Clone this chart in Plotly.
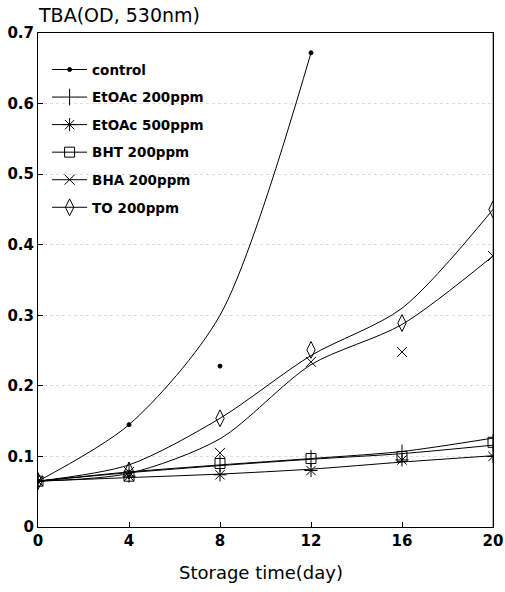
import plotly.graph_objects as go

days = [0, 4, 8, 12, 16, 20]
x_ticks = [0, 4, 8, 12, 16, 20]
y_ticks = [0, 0.1, 0.2, 0.3, 0.4, 0.5, 0.6, 0.7]
y_tick_labels = ["0", "0.1", "0.2", "0.3", "0.4", "0.5", "0.6", "0.7"]

series_names = ["control", "EtOAc 200ppm", "EtOAc 500ppm", "BHT 200ppm", "BHA 200ppm", "TO 200ppm"]

# measured points
control_days = [0, 4, 8, 12]
control_pts = [0.065, 0.145, 0.228, 0.672]
etoac200_pts = [0.065, 0.080, 0.090, 0.097, 0.105, 0.120]
etoac500_pts = [0.065, 0.072, 0.074, 0.080, 0.095, 0.100]
bht_pts = [0.065, 0.072, 0.090, 0.097, 0.100, 0.120]
bha_pts = [0.065, 0.078, 0.105, 0.234, 0.248, 0.384]
to_pts = [0.065, 0.080, 0.154, 0.251, 0.289, 0.450]

# fitted curves drawn through the data
control_fit = [0.065, 0.145, 0.300, 0.672]
etoac200_fit = [0.065, 0.078, 0.088, 0.097, 0.107, 0.126]
etoac500_fit = [0.065, 0.070, 0.075, 0.082, 0.092, 0.101]
bht_fit = [0.065, 0.077, 0.087, 0.096, 0.104, 0.116]
bha_fit = [0.065, 0.076, 0.125, 0.230, 0.287, 0.384]
to_fit = [0.065, 0.088, 0.154, 0.243, 0.310, 0.450]

symbols = ["circle", "line-ns-open", "asterisk-open", "square-open", "x-thin-open", "diamond-tall-open"]
sizes = [4, 12, 11, 10, 10, 12]

pts = [control_pts, etoac200_pts, etoac500_pts, bht_pts, bha_pts, to_pts]
fits = [control_fit, etoac200_fit, etoac500_fit, bht_fit, bha_fit, to_fit]
xs = [control_days, days, days, days, days, days]

FONT = "DejaVu Sans, sans-serif"
fig = go.Figure()

for i, name in enumerate(series_names):
    fig.add_trace(go.Scatter(
        x=xs[i], y=fits[i], mode="lines", line=dict(color="black", width=1, shape="spline", smoothing=0.8),
        showlegend=False, hoverinfo="skip"))
    fig.add_trace(go.Scatter(
        x=xs[i], y=pts[i], mode="markers", showlegend=False,
        marker=dict(symbol=symbols[i], size=sizes[i], color="black",
                    line=dict(color="black", width=1))))
    # legend entry
    fig.add_trace(go.Scatter(
        x=[None], y=[None], mode="lines+markers", name=name, legendgroup=name,
        line=dict(color="black", width=1),
        marker=dict(symbol=symbols[i], size=sizes[i], color="black",
                    line=dict(color="black", width=1))))

fig.update_layout(
    template="simple_white",
    width=505, height=592,
    margin=dict(l=38, r=12, t=33, b=65, autoexpand=False),
    paper_bgcolor="white", plot_bgcolor="white",
    font=dict(family=FONT, color="black"),
    showlegend=True,
    title=dict(text="TBA(OD, 530nm)", x=39 / 505, xref="container", xanchor="left",
               y=1 - 15 / 592, yref="container", yanchor="middle",
               font=dict(size=19, family=FONT, color="black")),
    legend=dict(x=0.02, y=0.957, xanchor="left", yanchor="top", bgcolor="rgba(0,0,0,0)",
                font=dict(size=13.5, family=FONT, weight="bold"), tracegroupgap=7, itemwidth=35),
    xaxis=dict(range=[0, 20], tickvals=x_ticks, ticks="inside", ticklen=5, tickcolor="black",
               showline=True, linecolor="black", linewidth=1, mirror=True, showgrid=False,
               zeroline=False, automargin=False, tickfont=dict(size=15, weight="bold")),
    yaxis=dict(range=[0, 0.7], tickvals=y_ticks, ticktext=y_tick_labels, ticks="inside", ticklen=5,
               tickcolor="black", showline=True, linecolor="black", linewidth=1, mirror=True,
               showgrid=True, gridcolor="#dddddd", griddash="dot", gridwidth=1,
               zeroline=False, automargin=False, tickfont=dict(size=15, weight="bold")),
    shapes=[dict(type="line", xref="paper", yref="paper", x0=1, x1=1, y0=0, y1=1,
                 line=dict(color="black", width=2))],
    annotations=[
        dict(text="Storage time(day)", xref="paper", yref="paper", x=0.49, y=-0.093,
             xanchor="center", yanchor="middle", showarrow=False, font=dict(size=18, family=FONT)),
    ],
)

fig.write_html("out.html", config={"displayModeBar": False},
               post_script="document.body.style.margin='0px';")
